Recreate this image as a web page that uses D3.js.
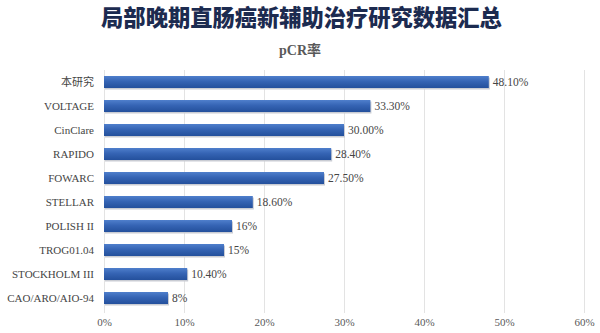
<!DOCTYPE html>
<html><head><meta charset="utf-8">
<script src="https://cdn.jsdelivr.net/npm/d3@7"></script>
<style>body{margin:0;background:#fff}svg{display:block}
.serif{font-family:"Liberation Serif","Times New Roman","DejaVu Serif","Noto Sans CJK SC",serif}
</style>
</head><body>
<svg id="c" width="600" height="333"></svg>
<script>
const categories = ["本研究","VOLTAGE","CinClare","RAPIDO","FOWARC","STELLAR","POLISH II","TROG01.04","STOCKHOLM III","CAO/ARO/AIO-94"];
const values = [48.1,33.3,30.0,28.4,27.5,18.6,16,15,10.4,8];
const valueLabels = ["48.10%","33.30%","30.00%","28.40%","27.50%","18.60%","16%","15%","10.40%","8%"];
const ticks = [0,10,20,30,40,50,60];
const title = "局部晚期直肠癌新辅助治疗研究数据汇总";
const subtitle = "pCR率";

const svg = d3.select("#c");
const x = d3.scaleLinear().domain([0,60]).range([104,584]);
const y = d3.scaleBand().domain(categories).range([70,310]).paddingInner(0.5).paddingOuter(0.25);

const defs = svg.append("defs");
const g = defs.append("linearGradient").attr("id","bg").attr("x1",0).attr("y1",0).attr("x2",0).attr("y2",1);
g.append("stop").attr("offset","0%").attr("stop-color","#4f7fcc");
g.append("stop").attr("offset","45%").attr("stop-color","#3564b4");
g.append("stop").attr("offset","100%").attr("stop-color","#24509c");

const t = svg.append("text").attr("x",301.5).attr("y",26).attr("text-anchor","middle")
  .style("font-family","'Noto Sans CJK SC', sans-serif").attr("font-weight",900)
  .attr("font-size",24).attr("fill","#1c2b50").text(title);
const tw = t.node().getComputedTextLength();
t.attr("font-size", 24*401/tw);
svg.append("text").attr("x",300).attr("y",55).attr("text-anchor","middle").attr("class","serif")
  .attr("font-weight","bold")
  .attr("font-size",14).attr("fill","#595959").text(subtitle);

// gridlines
svg.append("g").selectAll("line").data(ticks).join("line")
  .attr("x1",d=>x(d)+0.5).attr("x2",d=>x(d)+0.5).attr("y1",70).attr("y2",313)
  .attr("stroke","#e3e3e3").attr("stroke-width",1);

// x axis labels
const xa = svg.append("g").attr("transform","translate(0,313)")
  .call(d3.axisBottom(x).tickValues(ticks).tickFormat(d=>d+"%").tickSize(0).tickPadding(5));
xa.select(".domain").remove();
xa.attr("font-family",null);
xa.selectAll("text").attr("class","serif").attr("font-size",11).attr("fill","#595959");

// y axis labels
const ya = svg.append("g").attr("transform","translate(104,0)")
  .call(d3.axisLeft(y).tickSize(0).tickPadding(10));
ya.select(".domain").remove();
ya.attr("font-family",null);
ya.selectAll("text").attr("class","serif").attr("font-size",11).attr("fill","#454545");

// bars with shadow
const rows = categories.map((c,i)=>({c,v:values[i],l:valueLabels[i]}));
svg.append("g").selectAll("rect").data(rows).join("rect")
  .attr("x",x(0)+1).attr("y",d=>y(d.c)+1.5).attr("width",d=>x(d.v)-x(0)).attr("height",y.bandwidth())
  .attr("fill","#c9ccd3");
svg.append("g").selectAll("rect").data(rows).join("rect")
  .attr("x",x(0)).attr("y",d=>y(d.c)).attr("width",d=>x(d.v)-x(0)).attr("height",y.bandwidth())
  .attr("fill","url(#bg)");

svg.append("g").selectAll("text").data(rows).join("text")
  .attr("x",d=>x(d.v)+4).attr("y",d=>y(d.c)+y.bandwidth()/2).attr("dy","0.35em")
  .attr("class","serif").attr("font-size",11.5).attr("fill","#454545")
  .text(d=>d.l);
</script>
</body></html>
